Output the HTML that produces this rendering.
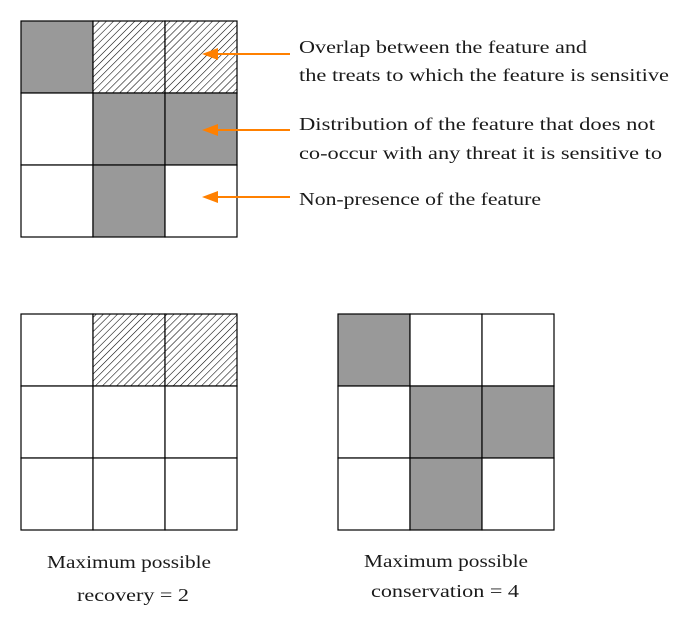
<!DOCTYPE html>
<html><head><meta charset="utf-8"><style>
html,body{margin:0;padding:0;background:#fff;}
svg{display:block;}
text{font-family:"Liberation Serif",serif;font-size:18px;fill:#1a1a1a;}
</style></head><body>
<svg id="fig" width="685" height="626" viewBox="0 0 685 626">
<defs>
<pattern id="hatch" patternUnits="userSpaceOnUse" width="5" height="5" patternTransform="rotate(45)">
<rect width="5" height="5" fill="#fff"/>
<line x1="0" y1="0" x2="0" y2="5" stroke="#000" stroke-width="1.1"/>
</pattern>
</defs>
<g id="grids"></g>
<g>
<text x="299" y="53" textLength="288" lengthAdjust="spacingAndGlyphs">Overlap between the feature and</text>
<text x="299" y="81" textLength="370" lengthAdjust="spacingAndGlyphs">the treats to which the feature is sensitive</text>
<text x="299" y="130" textLength="356" lengthAdjust="spacingAndGlyphs">Distribution of the feature that does not</text>
<text x="299" y="159" textLength="363" lengthAdjust="spacingAndGlyphs">co-occur with any threat it is sensitive to</text>
<text x="299" y="205" textLength="242" lengthAdjust="spacingAndGlyphs">Non-presence of the feature</text>
<text x="47" y="568" textLength="164" lengthAdjust="spacingAndGlyphs">Maximum possible</text>
<text x="77" y="601" textLength="112" lengthAdjust="spacingAndGlyphs">recovery = 2</text>
<text x="364" y="567" textLength="164" lengthAdjust="spacingAndGlyphs">Maximum possible</text>
<text x="371" y="597" textLength="148" lengthAdjust="spacingAndGlyphs">conservation = 4</text>
</g>
<g id="arrows"></g>
</svg>
<script>
// cell states: 0 empty, 1 gray, 2 hatched
const topGrid = [[1,2,2],[0,1,1],[0,1,0]];
const recoveryGrid = [[0,2,2],[0,0,0],[0,0,0]];
const conservationGrid = [[1,0,0],[0,1,1],[0,1,0]];
const arrowYs = [54,130,197];
const NS="http://www.w3.org/2000/svg";
const gg=document.getElementById('grids');
function drawGrid(data,x0,y0,name){
  const g=document.createElementNS(NS,'g');
  
  
  const s=72;
  data.forEach((row,r)=>row.forEach((v,c)=>{
    const rc=document.createElementNS(NS,'rect');
    rc.setAttribute('x',x0+c*s);rc.setAttribute('y',y0+r*s);
    rc.setAttribute('width',s);rc.setAttribute('height',s);
    rc.setAttribute('fill',v===1?'#999999':v===2?'url(#hatch)':'#fff');
    rc.setAttribute('stroke','#000');rc.setAttribute('stroke-width','1.2');
    
    
    g.appendChild(rc);
  }));
  gg.appendChild(g);
}
drawGrid(topGrid,21,21,'legend-grid');
drawGrid(recoveryGrid,21,314,'recovery-grid');
drawGrid(conservationGrid,338,314,'conservation-grid');
const ag=document.getElementById('arrows');
arrowYs.forEach((y,i)=>{
  const l=document.createElementNS(NS,'line');
  l.setAttribute('x1',290);l.setAttribute('x2',212);l.setAttribute('y1',y);l.setAttribute('y2',y);
  l.setAttribute('stroke','#ff8000');l.setAttribute('stroke-width','2');
  
  
  ag.appendChild(l);
  const p=document.createElementNS(NS,'polygon');
  p.setAttribute('points',`202,${y} 218,${y-6} 218,${y+6}`);
  p.setAttribute('fill','#ff8000');
  
  
  ag.appendChild(p);
});
</script>
</body></html>
